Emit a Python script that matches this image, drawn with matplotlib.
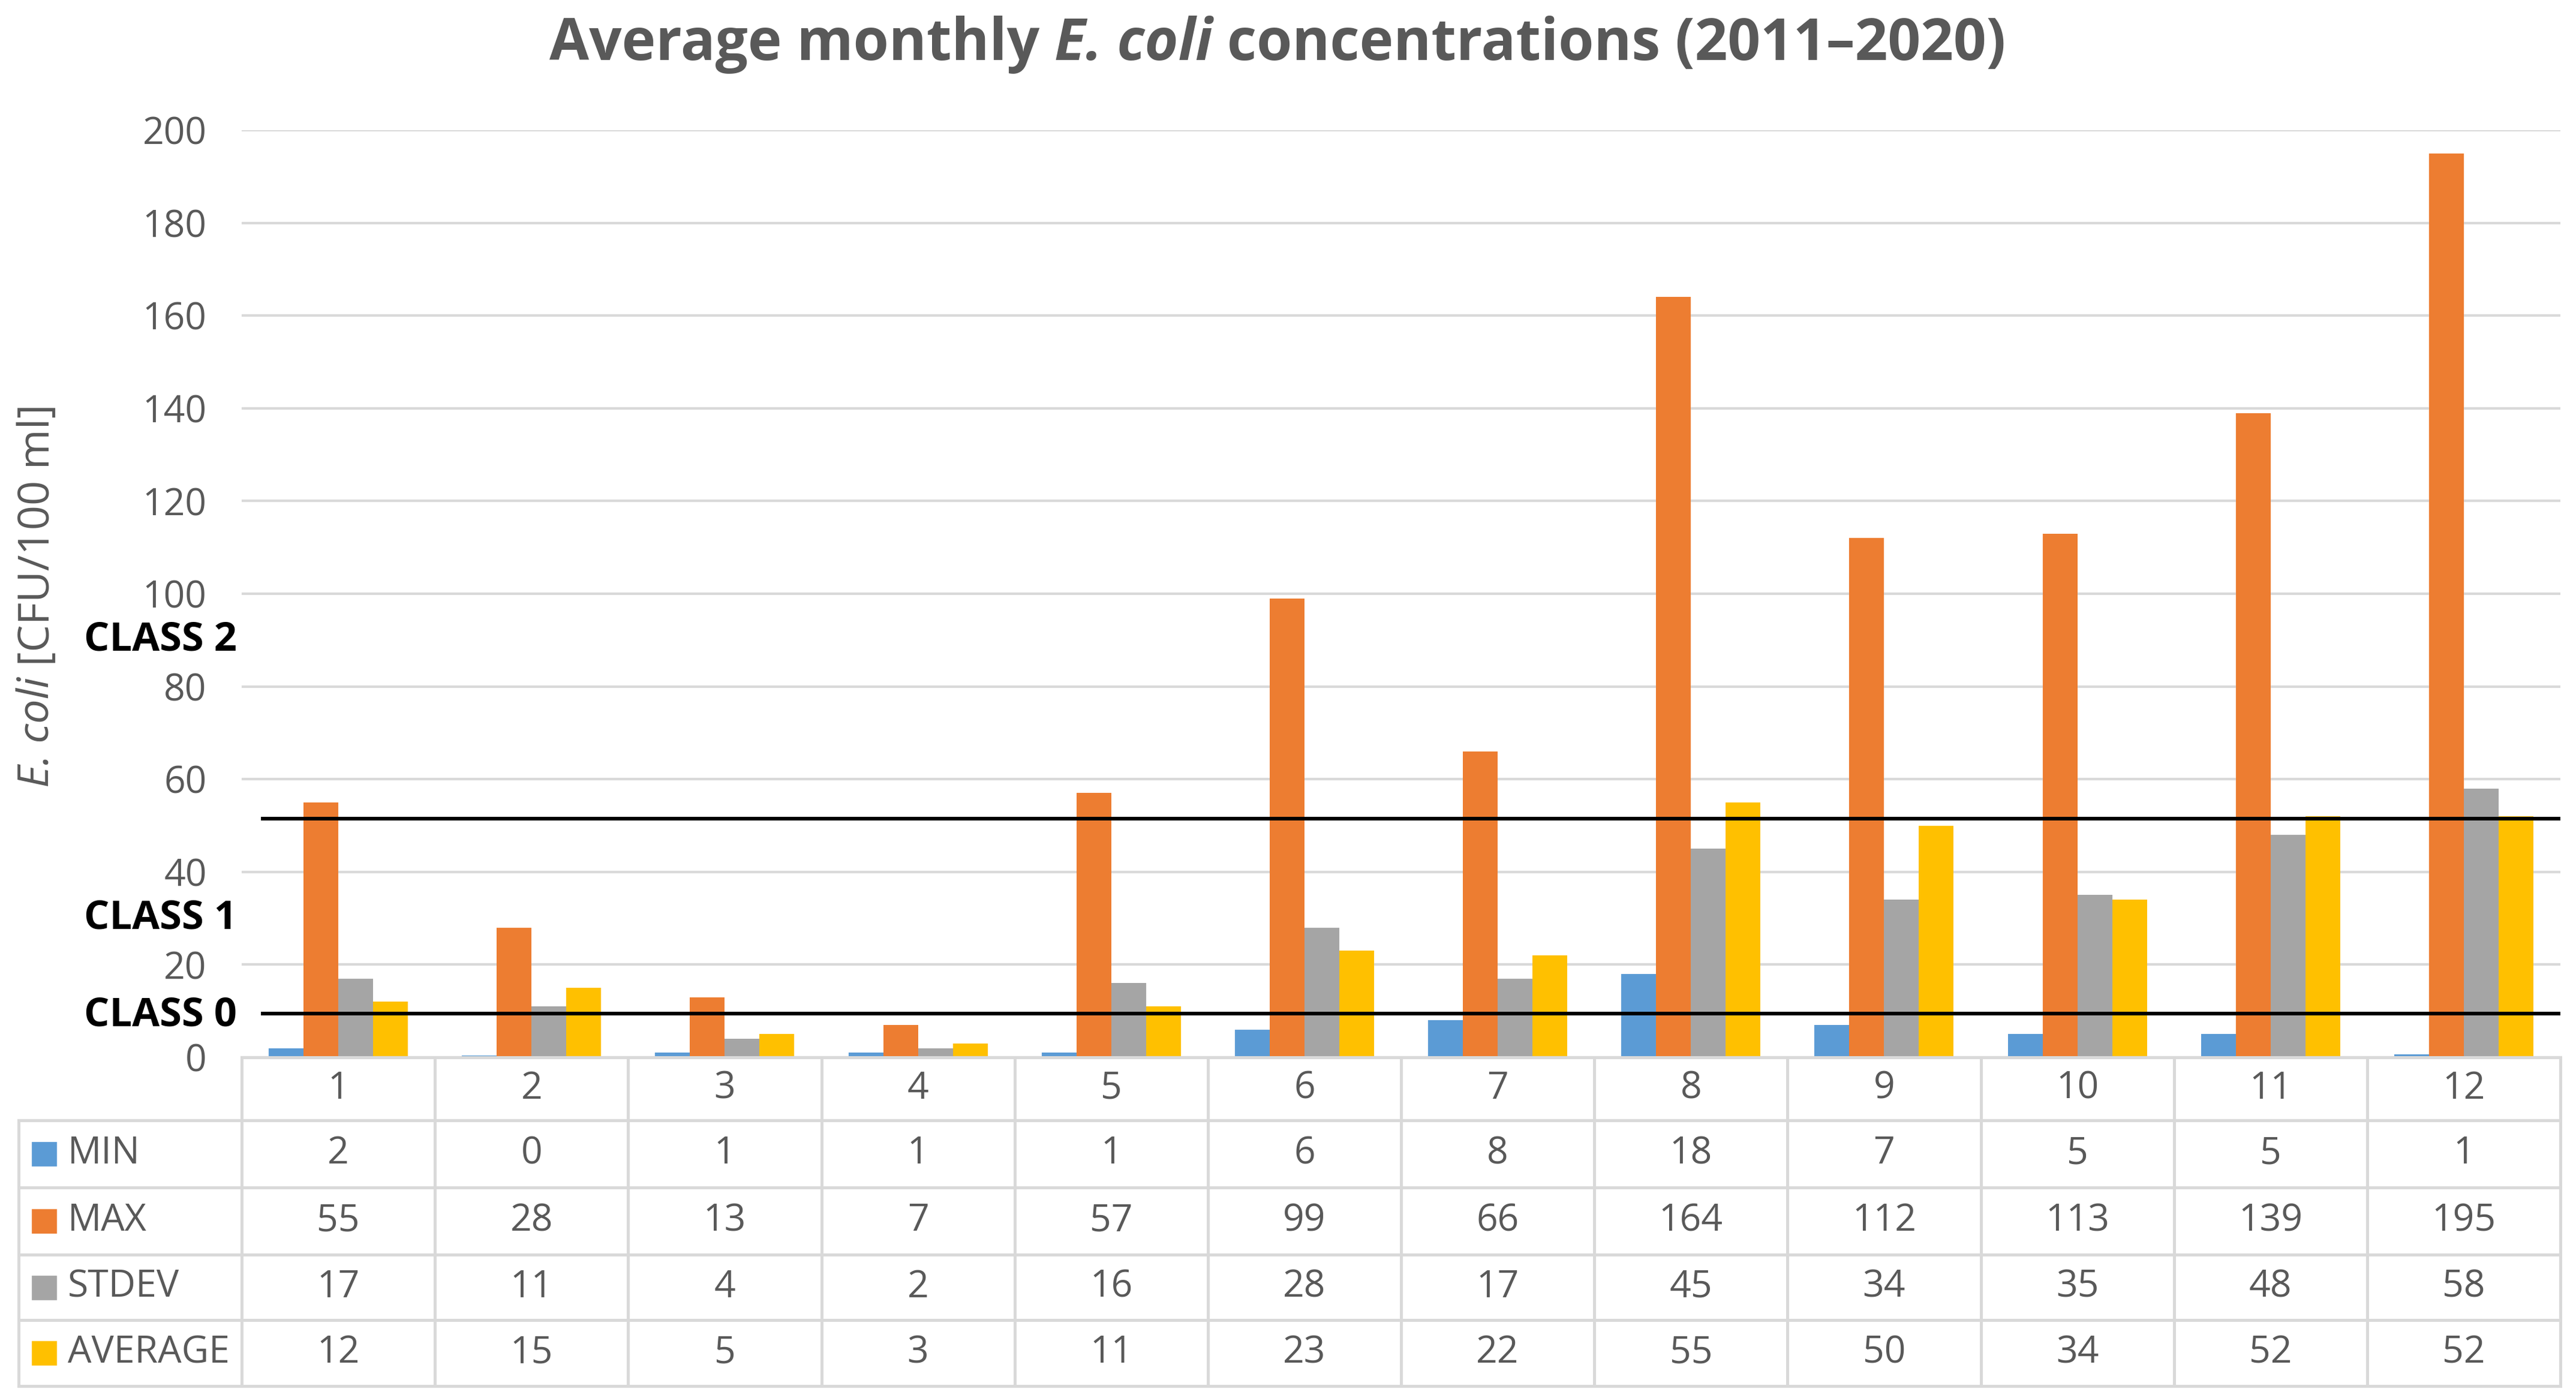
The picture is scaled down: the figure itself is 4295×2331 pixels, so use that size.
import matplotlib
matplotlib.use("Agg")
import matplotlib.pyplot as plt
import numpy as np
from matplotlib.patches import Rectangle

# ---------------- data ----------------
months = ["1", "2", "3", "4", "5", "6", "7", "8", "9", "10", "11", "12"]
series_names = ["MIN", "MAX", "STDEV", "AVERAGE"]
min_vals = [2, 0.4, 1, 1, 1, 6, 8, 18, 7, 5, 5, 0.6]
max_vals = [55, 28, 13, 7, 57, 99, 66, 164, 112, 113, 139, 195]
stdev_vals = [17, 11, 4, 2, 16, 28, 17, 45, 34, 35, 48, 58]
avg_vals = [12, 15, 5, 3, 11, 23, 22, 55, 50, 34, 52, 52]
class_limits = [9.5, 51.5]
class_labels = ["CLASS 0", "CLASS 1", "CLASS 2"]
class_label_y = [9, 30, 90]
colors = ["#5B9BD5", "#ED7D31", "#A5A5A5", "#FFC000"]
title_parts = [("Average monthly ", "normal"), ("E. coli", "italic"),
               (" concentrations (2011–2020)", "normal")]
ylabel_parts = [("E. coli", "italic"), (" [CFU/100 ml]", "normal")]

series = [min_vals, max_vals, stdev_vals, avg_vals]

plt.rcParams["font.family"] = ["Open Sans", "DejaVu Sans"]

W, H = 4295, 2331
DPI = 200
fig = plt.figure(figsize=(W / DPI, H / DPI), dpi=DPI)
fig.patch.set_facecolor("white")

def fx(px):
    return px / W

def fy(py):
    return 1 - py / H

renderer = fig.canvas.get_renderer()

def text_width_px(s, **kw):
    t = fig.text(0, 0, s, **kw)
    w = t.get_window_extent(renderer).width
    t.remove()
    return w

def rich_text(parts, cx, cy, vertical=False, **kw):
    """Draw text pieces with different styles, centred along the run at (cx, cy) pixels (top-left origin)."""
    widths = []
    for s, style in parts:
        w = text_width_px("|" + s + "|", style=style, **kw) - text_width_px("||", style=style, **kw)
        widths.append(w)
    total = sum(widths)
    pos = -total / 2
    for (s, style), w in zip(parts, widths):
        if vertical:
            fig.text(fx(cx), fy(cy - pos), s, style=style, rotation=90,
                     ha="left", va="baseline", rotation_mode="anchor", **kw)
        else:
            fig.text(fx(cx + pos), fy(cy), s, style=style, ha="left", va="baseline", **kw)
        pos += w

# plot area pixels
PL, PR, PT, PB = 403, 4269, 217, 1763
ax = fig.add_axes([fx(PL), fy(PB), fx(PR) - fx(PL), fy(PT) - fy(PB)])
n = len(months)
x = np.arange(n)
bw = 0.18
for i, (vals, c) in enumerate(zip(series, colors)):
    ax.bar(x + (i - 1.5) * bw, vals, width=bw, color=c, zorder=3, linewidth=0)

ax.set_xlim(-0.5, n - 0.5)
ax.set_ylim(0, 200)
ax.set_yticks(np.arange(0, 201, 20))
ax.yaxis.grid(True, color="#D9D9D9", linewidth=1.5, zorder=0)
ax.set_xticks([])
ax.tick_params(axis="y", length=0, pad=21, labelsize=22.5, labelcolor="#595959")
for s in ax.spines.values():
    s.set_visible(False)

# class lines
for v in class_limits:
    ax.hlines(v, -0.4, n - 0.5, color="black", linewidth=2.2, zorder=5, clip_on=False)
tr = ax.get_yaxis_transform()
for lab, yv in zip(class_labels, class_label_y):
    ax.text(-0.002, yv, lab, transform=tr, ha="right", va="center",
            fontsize=24, fontweight="bold", color="black", clip_on=False)

# title
rich_text(title_parts, 2130, 100, fontsize=34.5, fontweight="bold", color="#595959")

# y label (baseline at x ~ 80 px)
rich_text(ylabel_parts, 82, 993, vertical=True, fontsize=26, color="#595959")

# ---------------- data table ----------------
TL = 31
row_edges = [1763, 1868, 1980, 2092, 2201, 2311]
tab = fig.add_axes([fx(TL), fy(row_edges[-1]), fx(PR) - fx(TL), fy(row_edges[0]) - fy(row_edges[-1])])
left_x = -0.5 - (PL - TL) / ((PR - PL) / n)
tab.set_xlim(left_x, n - 0.5)
tab.set_ylim(row_edges[-1], row_edges[0])
tab.axis("off")
bc = "#D9D9D9"
blw = 1.8
tab.plot([-0.5, n - 0.5], [row_edges[0]] * 2, color=bc, lw=blw, clip_on=False)
for e in row_edges[1:]:
    tab.plot([left_x, n - 0.5], [e, e], color=bc, lw=blw, clip_on=False)
for k in range(n + 1):
    tab.plot([k - 0.5] * 2, [row_edges[0], row_edges[-1]], color=bc, lw=blw, clip_on=False)
tab.plot([left_x] * 2, [row_edges[1], row_edges[-1]], color=bc, lw=blw, clip_on=False)

hc = (row_edges[0] + row_edges[1]) / 2
for k, m in enumerate(months):
    tab.text(k, hc, m, ha="center", va="center", fontsize=22.5, color="#595959")

colw = (PR - PL) / n
for r, (name, vals, c) in enumerate(zip(series_names, series, colors)):
    yc = (row_edges[r + 1] + row_edges[r + 2]) / 2
    sq_x0 = left_x + (54 - TL) / colw
    sq_w = (93 - 54) / colw
    tab.add_patch(Rectangle((sq_x0, yc - 19), sq_w, 38, color=c, clip_on=False))
    tab.text(left_x + (113 - TL) / colw, yc, name, ha="left", va="center",
             fontsize=22.5, color="#595959")
    for k, v in enumerate(vals):
        tab.text(k, yc, f"{round(v)}", ha="center", va="center", fontsize=22.5, color="#595959")

fig.savefig("out.png", dpi=DPI, facecolor="white")
